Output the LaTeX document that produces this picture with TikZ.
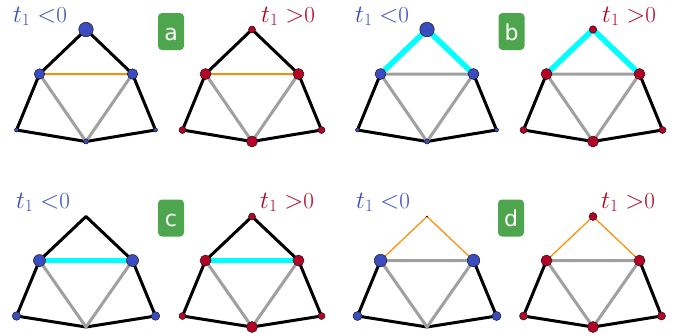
\documentclass[tikz,border=0pt]{standalone}
\usepackage{fontspec}
\newfontfamily\tagfont{DejaVu Sans}
\usepackage{xcolor}
\usepackage{tikz}
\definecolor{negblue}{HTML}{3B4CC0}
\definecolor{posred}{HTML}{B40426}
\definecolor{tagbg}{HTML}{4DA64D}
\definecolor{flipline}{HTML}{FF8C00}
\definecolor{hiline}{HTML}{00FFFF}
\definecolor{innerline}{HTML}{A0A0A0}
\definecolor{ringcol}{HTML}{1A1A1A}
\pgfdeclarelayer{canvas}
\pgfdeclarelayer{edges}
\pgfsetlayers{canvas,edges,main}

\begin{document}
\begin{tikzpicture}[
    x=1pt,y=-1pt,
    negdot/.style={circle,draw=ringcol,line width=0.5pt,fill=negblue,inner sep=0pt,minimum size=#1},
    posdot/.style={circle,draw=ringcol,line width=0.5pt,fill=posred,inner sep=0pt,minimum size=#1},
    outerEdge/.style={draw=black,line width=3pt,line cap=round,line join=round},
    innerEdge/.style={draw=innerline,line width=3pt,line cap=round,line join=round},
    flipEdge/.style={draw=flipline,line width=1.2pt},
    hiEdge/.style={draw=hiline,line width=5.5pt,line join=round},
    tag/.style={fill=tagbg,rounded corners=4pt,text=white,font=\tagfont\fontsize{22}{22}\selectfont,minimum width=26pt,inner xsep=0pt,inner ysep=10pt,text height=17pt,text depth=0pt},
    signneg/.style={anchor=base west,inner sep=0pt,text=negblue,font=\fontsize{23}{26}\selectfont},
    signpos/.style={anchor=base west,inner sep=0pt,text=posred,font=\fontsize{23}{26}\selectfont}
]
\useasboundingbox (0,0) rectangle (674,335);
\begin{pgfonlayer}{canvas}
\fill[white] (0,0) rectangle (674,335);
\end{pgfonlayer}
% panel a
\node[signneg] (an-sign) at (13,22) {$t_1 <$0};
\node[signpos] (ap-sign) at (261,22) {$t_1 >$0};
\node[tag] (tag-a) at (171,31.5) {a};
\node[negdot=14.5pt] (an-top) at (86,29.5) {};
\node[negdot=10.5pt] (an-lm) at (39.5,74) {};
\node[negdot=10.5pt] (an-rm) at (132.5,74) {};
\node[negdot=4pt] (an-bl) at (16.5,130) {};
\node[negdot=5pt] (an-bc) at (86,141.5) {};
\node[negdot=4pt] (an-br) at (155.5,130) {};
\node[posdot=7pt] (ap-top) at (252,29.5) {};
\node[posdot=11pt] (ap-lm) at (205.5,74) {};
\node[posdot=11pt] (ap-rm) at (298.5,74) {};
\node[posdot=7pt] (ap-bl) at (182.5,130) {};
\node[posdot=11pt] (ap-bc) at (252,141.5) {};
\node[posdot=7pt] (ap-br) at (321.5,130) {};
% panel b
\node[signneg] (bn-sign) at (355,22) {$t_1 <$0};
\node[signpos] (bp-sign) at (602,22) {$t_1 >$0};
\node[tag] (tag-b) at (511.5,31.5) {b};
\node[negdot=14.5pt] (bn-top) at (427,29.5) {};
\node[negdot=11pt] (bn-lm) at (380.5,74) {};
\node[negdot=11pt] (bn-rm) at (473.5,74) {};
\node[negdot=4pt] (bn-bl) at (357.5,130) {};
\node[negdot=5pt] (bn-bc) at (427,141.5) {};
\node[negdot=4pt] (bn-br) at (496.5,130) {};
\node[posdot=7.5pt] (bp-top) at (593,29.5) {};
\node[posdot=11pt] (bp-lm) at (546.5,74) {};
\node[posdot=11pt] (bp-rm) at (639.5,74) {};
\node[posdot=7pt] (bp-bl) at (523.5,130) {};
\node[posdot=11pt] (bp-bc) at (593,141.5) {};
\node[posdot=7pt] (bp-br) at (662.5,130) {};
% panel c
\node[signneg] (cn-sign) at (16,208) {$t_1 <$0};
\node[signpos] (cp-sign) at (260,208) {$t_1 >$0};
\node[tag] (tag-c) at (171,218) {c};
\coordinate (cn-top) at (86,216.5);
\node[negdot=12pt] (cn-lm) at (39.5,260.5) {};
\node[negdot=12pt] (cn-rm) at (132.5,260.5) {};
\node[negdot=8.5pt] (cn-bl) at (16.5,316) {};
\coordinate (cn-bc) at (86,327);
\node[negdot=8.5pt] (cn-br) at (155.5,316) {};
\node[posdot=7pt] (cp-top) at (252,216.5) {};
\node[posdot=11pt] (cp-lm) at (205.5,260.5) {};
\node[posdot=11pt] (cp-rm) at (298.5,260.5) {};
\node[posdot=7pt] (cp-bl) at (182.5,316) {};
\node[posdot=11pt] (cp-bc) at (252,327) {};
\node[posdot=7pt] (cp-br) at (321.5,316) {};
% panel d
\node[signneg] (dn-sign) at (356,208) {$t_1 <$0};
\node[signpos] (dp-sign) at (601,208) {$t_1 >$0};
\node[tag] (tag-d) at (511,218) {d};
\node[negdot=1pt] (dn-top) at (427,216.5) {};
\node[negdot=12.5pt] (dn-lm) at (380.5,260.5) {};
\node[negdot=12.5pt] (dn-rm) at (473.5,260.5) {};
\node[negdot=9pt] (dn-bl) at (357.5,316) {};
\coordinate (dn-bc) at (427,327);
\node[negdot=9pt] (dn-br) at (496.5,316) {};
\node[posdot=8pt] (dp-top) at (593,216.5) {};
\node[posdot=11pt] (dp-lm) at (546.5,260.5) {};
\node[posdot=11pt] (dp-rm) at (639.5,260.5) {};
\node[posdot=8pt] (dp-bl) at (523.5,316) {};
\node[posdot=11pt] (dp-bc) at (593,327) {};
\node[posdot=8pt] (dp-br) at (661.5,316) {};
% edges under the dots
\begin{pgfonlayer}{edges}
\draw[outerEdge] (an-bl.center) -- (an-lm.center) -- (an-top.center) -- (an-rm.center) -- (an-br.center) -- (an-bc.center) -- cycle;
\draw[innerEdge] (an-lm.center) -- (an-bc.center) -- (an-rm.center);
\draw[flipEdge] (an-lm.center) -- (an-rm.center);
\draw[outerEdge] (ap-bl.center) -- (ap-lm.center) -- (ap-top.center) -- (ap-rm.center) -- (ap-br.center) -- (ap-bc.center) -- cycle;
\draw[innerEdge] (ap-lm.center) -- (ap-bc.center) -- (ap-rm.center);
\draw[flipEdge] (ap-lm.center) -- (ap-rm.center);
\draw[outerEdge] (bn-lm.center) -- (bn-bl.center) -- (bn-bc.center) -- (bn-br.center) -- (bn-rm.center);
\draw[innerEdge] (bn-lm.center) -- (bn-bc.center) -- (bn-rm.center) -- cycle;
\draw[hiEdge] (bn-lm.center) -- (bn-top.center) -- (bn-rm.center);
\draw[outerEdge] (bp-lm.center) -- (bp-bl.center) -- (bp-bc.center) -- (bp-br.center) -- (bp-rm.center);
\draw[innerEdge] (bp-lm.center) -- (bp-bc.center) -- (bp-rm.center) -- cycle;
\draw[hiEdge] (bp-lm.center) -- (bp-top.center) -- (bp-rm.center);
\draw[outerEdge] (cn-bl.center) -- (cn-lm.center) -- (cn-top) -- (cn-rm.center) -- (cn-br.center) -- (cn-bc) -- cycle;
\draw[innerEdge] (cn-lm.center) -- (cn-bc) -- (cn-rm.center);
\draw[hiEdge] (cn-lm.center) -- (cn-rm.center);
\draw[outerEdge] (cp-bl.center) -- (cp-lm.center) -- (cp-top.center) -- (cp-rm.center) -- (cp-br.center) -- (cp-bc.center) -- cycle;
\draw[innerEdge] (cp-lm.center) -- (cp-bc.center) -- (cp-rm.center);
\draw[hiEdge] (cp-lm.center) -- (cp-rm.center);
\draw[outerEdge] (dn-lm.center) -- (dn-bl.center) -- (dn-bc) -- (dn-br.center) -- (dn-rm.center);
\draw[innerEdge] (dn-lm.center) -- (dn-bc) -- (dn-rm.center) -- cycle;
\draw[flipEdge] (dn-lm.center) -- (dn-top.center) -- (dn-rm.center);
\draw[outerEdge] (dp-lm.center) -- (dp-bl.center) -- (dp-bc.center) -- (dp-br.center) -- (dp-rm.center);
\draw[innerEdge] (dp-lm.center) -- (dp-bc.center) -- (dp-rm.center) -- cycle;
\draw[flipEdge] (dp-lm.center) -- (dp-top.center) -- (dp-rm.center);
\end{pgfonlayer}
\end{tikzpicture}
\end{document}
